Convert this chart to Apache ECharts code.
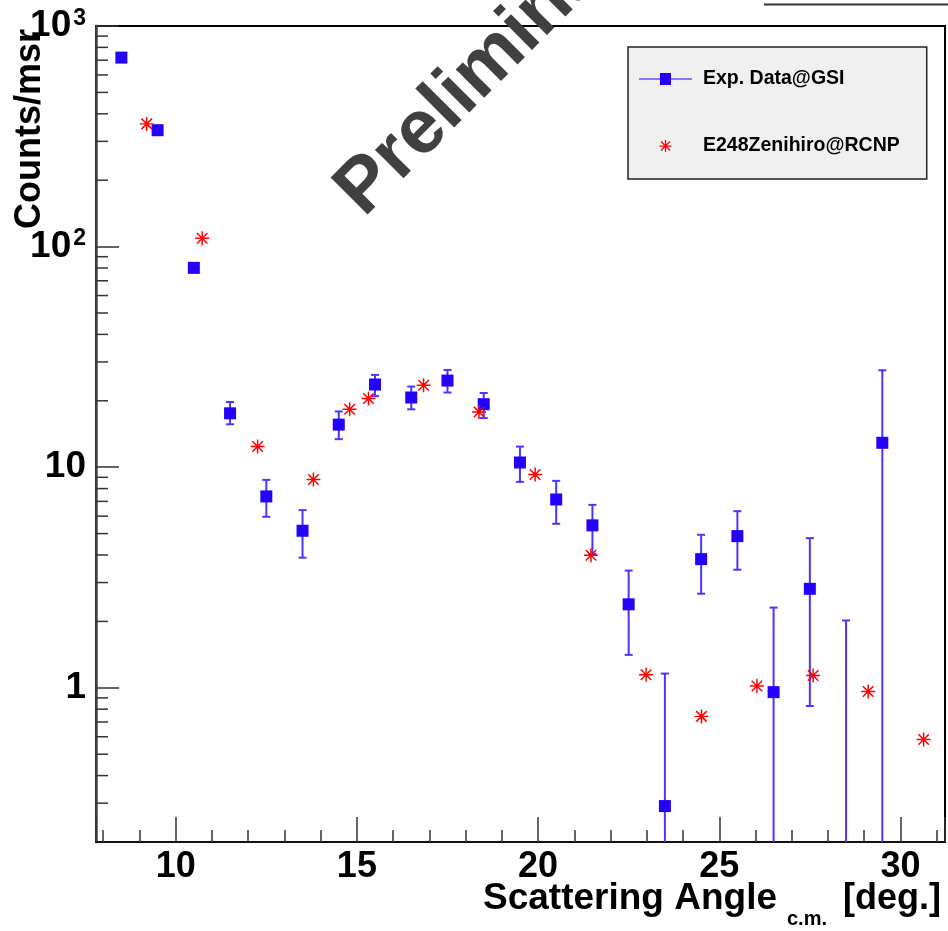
<!DOCTYPE html>
<html>
<head>
<meta charset="utf-8">
<script src="https://cdn.jsdelivr.net/npm/echarts@6/dist/echarts.min.js"></script>
<style>
html, body { margin: 0; padding: 0; background: #fff; }
#chart { width: 948px; height: 931px; }
</style>
</head>
<body>
<div id="chart"></div>
<script>
var FONT = '"Liberation Sans", Arial, Helvetica, sans-serif';
var X_MIN = 7.8, X_MAX = 31.23;
var Y_MIN = 0.2, Y_MAX = 1000;

// Exp. Data@GSI (null low = error bar runs below the axis)
var gsiAngle = [8.5, 9.5, 10.5, 11.5, 12.5, 13.5, 14.5, 15.5, 16.5, 17.5, 18.5, 19.5, 20.5, 21.5, 22.5, 23.5, 24.5, 25.5, 26.5, 27.5, 28.5, 29.5];
var gsiValue = [719, 337, 80.1, 17.55, 7.37, 5.15, 15.6, 23.7, 20.7, 24.7, 19.3, 10.5, 7.14, 5.45, 2.39, 0.291, 3.83, 4.87, 0.956, 2.81, null, 12.9];
var gsiLow   = [698, 327, 77.7, 15.65, 5.96, 3.89, 13.4, 21.0, 18.3, 21.8, 16.7, 8.58, 5.54, 4.04, 1.41, null, 2.67, 3.43, null, 0.827, null, null];
var gsiHigh  = [740, 347, 82.5, 19.75, 8.76, 6.39, 17.9, 26.2, 23.2, 27.6, 21.7, 12.4, 8.67, 6.75, 3.40, 1.16, 4.94, 6.32, 2.31, 4.77, 2.02, 27.5];

// E248Zenihiro@RCNP
var rcnpAngle = [9.20, 10.73, 12.26, 13.80, 14.80, 15.32, 16.84, 18.37, 19.92, 21.46, 22.98, 24.51, 26.04, 27.59, 29.11, 30.64];
var rcnpValue = [360, 109, 12.4, 8.80, 18.3, 20.5, 23.5, 17.8, 9.27, 3.99, 1.145, 0.742, 1.018, 1.137, 0.962, 0.583];

// log axis minor ticks (2..9 x 10^n)
var yMinorTicks = [0.3, 0.4, 0.5, 0.6, 0.7, 0.8, 0.9, 2, 3, 4, 5, 6, 7, 8, 9, 20, 30, 40, 50, 60, 70, 80, 90, 200, 300, 400, 500, 600, 700, 800, 900];

var BLUE = '#2400ff';
var BAR = '#4b36ff';
var RED = '#ff0000';

var asterisk = 'path://M0,10.75L24,10.75L24,13.25L0,13.25Z M10.75,0L13.25,0L13.25,24L10.75,24Z M3.9,2.1L21.9,20.1L20.1,21.9L2.1,3.9Z M20.1,2.1L21.9,3.9L3.9,21.9L2.1,20.1Z';
var lineSquare = 'path://M0,5.5L53,5.5L53,6.5L0,6.5Z M21,0L32,0L32,12L21,12Z';

var gsiPoints = gsiAngle.map(function (a, i) { return [a, gsiValue[i] === null ? '-' : gsiValue[i]]; });
var gsiBars = gsiAngle.map(function (a, i) {
  return [a, gsiLow[i] === null ? Y_MIN : gsiLow[i], gsiHigh[i], gsiLow[i] === null ? 0 : 1];
});
var rcnpPoints = rcnpAngle.map(function (a, i) { return [a, rcnpValue[i]]; });

var chart = echarts.init(document.getElementById('chart'));

var option = {
  animation: false,
  backgroundColor: '#fff',
  grid: { left: 96, right: 3, top: 26, bottom: 89, show: true, borderColor: '#000', borderWidth: 2 },
  legend: {
    left: 628, top: 47,
    orient: 'vertical',
    padding: [21, 27, 22, 11],
    itemGap: 45,
    itemWidth: 53, itemHeight: 12,
    backgroundColor: '#f0f0f0',
    borderColor: '#222', borderWidth: 1.5, borderRadius: 0,
    selectedMode: false,
    textStyle: { fontFamily: FONT, fontWeight: 'bold', fontSize: 19.5, color: '#000', lineHeight: 22, padding: [0, 0, 0, 6] },
    data: [
      { name: 'Exp. Data@GSI', icon: lineSquare },
      { name: 'E248Zenihiro@RCNP', icon: asterisk }
    ]
  },
  xAxis: {
    type: 'value', min: X_MIN, max: X_MAX, splitNumber: 5,
    axisLine: { lineStyle: { color: '#111', width: 2 } },
    axisTick: { inside: true, length: 25, lineStyle: { color: '#333', width: 1.5 } },
    minorTick: { show: true, splitNumber: 5, length: 12, lineStyle: { color: '#333', width: 1.5 } },
    splitLine: { show: false },
    axisLabel: { showMinLabel: false, showMaxLabel: false, margin: 7, fontFamily: FONT, fontWeight: 'bold', fontSize: 36, color: '#000' }
  },
  yAxis: {
    type: 'log', logBase: 10, min: Y_MIN, max: Y_MAX,
    axisLine: { lineStyle: { color: '#444', width: 2.5 } },
    axisTick: { inside: true, length: 23, lineStyle: { color: '#333', width: 1.5 } },
    minorTick: { show: false },
    splitLine: { show: false },
    axisLabel: {
      showMinLabel: false, margin: 10, color: '#000',
      formatter: function (v) {
        var e = Math.round(Math.log10(v));
        if (e === 0) return '{b|1}';
        if (e === 1) return '{b|10}';
        return '{b|10}{s|' + e + '}';
      },
      rich: {
        b: { fontFamily: FONT, fontWeight: 'bold', fontSize: 37, lineHeight: 38, color: '#000' },
        s: { fontFamily: FONT, fontWeight: 'bold', fontSize: 23, verticalAlign: 'top', color: '#000', padding: [0, 0, 0, 2] }
      }
    }
  },
  series: [
    {
      name: 'GSI errors', type: 'custom', silent: true, z: 2,
      data: gsiBars,
      encode: { x: 0, y: [1, 2] },
      renderItem: function (params, api) {
        var x = api.value(0);
        var top = api.coord([x, api.value(2)]);
        var bot = api.coord([x, api.value(1)]);
        var st = { stroke: BAR, lineWidth: 2 };
        var kids = [
          { type: 'line', shape: { x1: top[0], y1: top[1], x2: bot[0], y2: bot[1] }, style: st },
          { type: 'line', shape: { x1: top[0] - 4, y1: top[1], x2: top[0] + 4, y2: top[1] }, style: st }
        ];
        if (api.value(3) === 1) {
          kids.push({ type: 'line', shape: { x1: bot[0] - 4, y1: bot[1], x2: bot[0] + 4, y2: bot[1] }, style: st });
        }
        return { type: 'group', children: kids };
      }
    },
    {
      name: 'Exp. Data@GSI', type: 'scatter', z: 3, silent: true,
      symbol: 'rect', symbolSize: 12,
      itemStyle: { color: BLUE, opacity: 1 },
      data: gsiPoints
    },
    {
      name: 'E248Zenihiro@RCNP', type: 'scatter', z: 4, silent: true,
      symbol: asterisk, symbolSize: 14,
      itemStyle: { color: RED, opacity: 1 },
      data: rcnpPoints
    },
    {
      name: 'y minor ticks', type: 'custom', silent: true, clip: false, z: 5,
      data: yMinorTicks.map(function (v) { return [X_MIN, v]; }),
      renderItem: function (params, api) {
        var p = api.coord([api.value(0), api.value(1)]);
        return { type: 'line', shape: { x1: p[0], y1: p[1], x2: p[0] + 12, y2: p[1] }, style: { stroke: '#333', lineWidth: 1.5 } };
      }
    }
  ],
  graphic: [
    { type: 'line', shape: { x1: 764, y1: 4.5, x2: 948, y2: 4.5 }, style: { stroke: '#333', lineWidth: 2 } },
    {
      type: 'text', x: 30, y: 29, rotation: Math.PI / 2,
      style: { text: 'Counts/msr', fontFamily: FONT, fontWeight: 'bold', fontSize: 36, fill: '#000', align: 'right', verticalAlign: 'middle' }
    },
    {
      type: 'text', x: 777, y: 899,
      style: { text: 'Scattering Angle', fontFamily: FONT, fontWeight: 'bold', fontSize: 37, fill: '#000', align: 'right', verticalAlign: 'middle' }
    },
    {
      type: 'text', x: 787, y: 919,
      style: { text: 'c.m.', fontFamily: FONT, fontWeight: 'bold', fontSize: 20, fill: '#000', align: 'left', verticalAlign: 'middle' }
    },
    {
      type: 'text', x: 941, y: 899,
      style: { text: '[deg.]', fontFamily: FONT, fontWeight: 'bold', fontSize: 36, fill: '#000', align: 'right', verticalAlign: 'middle' }
    },
    {
      type: 'text', x: 376, y: 230, rotation: Math.PI / 4, z: 100,
      style: { text: 'Preliminary', fontFamily: FONT, fontWeight: 'bold', fontSize: 76, fill: '#404040', align: 'left', verticalAlign: 'bottom' }
    }
  ]
};

chart.setOption(option);
</script>
</body>
</html>
